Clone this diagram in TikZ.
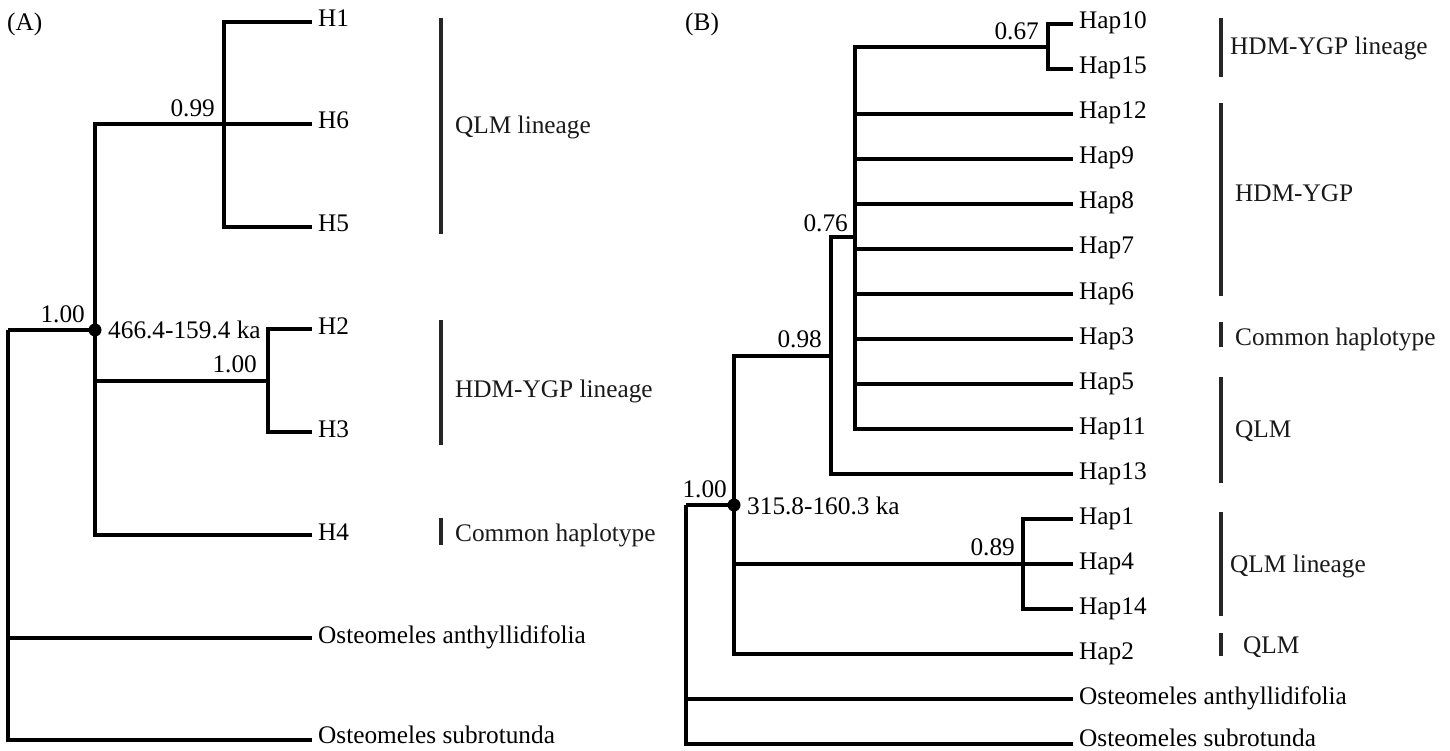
\documentclass[tikz,border=0pt]{standalone}
\usepackage{fontspec}
\setmainfont{Liberation Serif}
\newcommand{\figfont}{\fontsize{25.3}{30}\selectfont}
\begin{document}
\begin{tikzpicture}[x=1pt,y=-1pt,
  tree/.style={line width=3.3pt,line join=miter,black},
  bar/.style={line width=3.1pt,black!85},
  leaf/.style={anchor=base west,inner sep=0pt,xshift=6pt,yshift=-5pt,font=\figfont},
  supp/.style={anchor=base east,inner sep=0pt,font=\figfont},
  grp/.style={anchor=base west,inner sep=0pt,font=\figfont,black!90},
  dot/.style={circle,fill=black,inner sep=0pt,minimum size=13pt}]
\useasboundingbox (0,0) rectangle (1450,751);
% ---------------- Panel A ----------------
\node[anchor=base west,inner sep=0pt,font=\figfont] (lblA) at (7,31) {(A)};
\coordinate (rA) at (8,330);
\coordinate (nA) at (95,330);
\coordinate (nQ) at (224,124);
\coordinate (nH) at (268,381);
\coordinate (tH1) at (312,22);
\coordinate (tH6) at (312,124);
\coordinate (tH5) at (312,227);
\coordinate (tH2) at (312,329);
\coordinate (tH3) at (312,432);
\coordinate (tH4) at (312,535);
\coordinate (tOaA) at (312,638);
\coordinate (tOsA) at (312,740);
\draw[tree] (rA) -- (nA);
\draw[tree] (rA) |- (tOaA);
\draw[tree] (rA) |- (tOsA);
\draw[tree] (nA) |- (nQ);
\draw[tree] (nA) |- (nH);
\draw[tree] (nA) |- (tH4);
\draw[tree] (nQ) |- (tH1);
\draw[tree] (nQ) |- (tH5);
\draw[tree] (nQ) -- (tH6);
\draw[tree] (nH) |- (tH2);
\draw[tree] (nH) |- (tH3);
\node[dot] (dA) at (nA) {};
\node[leaf] (H1) at (tH1) {H1};
\node[leaf] (H6) at (tH6) {H6};
\node[leaf] (H5) at (tH5) {H5};
\node[leaf] (H2) at (tH2) {H2};
\node[leaf] (H3) at (tH3) {H3};
\node[leaf] (H4) at (tH4) {H4};
\node[leaf] (OaA) at (tOaA) {Osteomeles anthyllidifolia};
\node[leaf,yshift=2pt] (OsA) at (tOsA) {Osteomeles subrotunda};
\node[supp,xshift=-9pt,yshift=7pt] (s099) at (nQ) {0.99};
\node[supp,xshift=-10pt,yshift=8pt] (s100a) at (nA) {1.00};
\node[supp,xshift=-11pt,yshift=9pt] (s100b) at (nH) {1.00};
\node[anchor=base west,inner sep=0pt,font=\figfont,xshift=13pt,yshift=-8pt] (ageA) at (nA) {466.4-159.4 ka};
\draw[bar] (441,18) -- (441,234);
\draw[bar] (441,320) -- (441,445);
\draw[bar] (441,518) -- (441,545);
\node[grp] (gA1) at (455,134) {QLM lineage};
\node[grp] (gA2) at (455,397) {HDM-YGP lineage};
\node[grp] (gA3) at (455,541) {Common haplotype};
% ---------------- Panel B ----------------
\node[anchor=base west,inner sep=0pt,font=\figfont] (lblB) at (685,31) {(B)};
\coordinate (rB) at (686,505);
\coordinate (nB) at (734,505);
\coordinate (n98) at (831,356);
\coordinate (n76) at (855,237);
\coordinate (n67) at (1048,47);
\coordinate (n89) at (1023,564);
\foreach \nm/\yy in {10/24,15/69,12/114,9/159,8/204,7/249,6/294,3/339,5/384,11/429,13/474,1/519,4/564,14/609,2/654}{
  \coordinate (t\nm) at (1073,\yy);
}
\coordinate (tOaB) at (1073,699);
\coordinate (tOsB) at (1073,744);
\draw[tree] (rB) -- (nB);
\draw[tree] (rB) |- (tOaB);
\draw[tree] (rB) |- (tOsB);
\draw[tree] (nB) |- (n98);
\draw[tree] (nB) |- (n89);
\draw[tree] (nB) |- (t2);
\draw[tree] (n98) |- (n76);
\draw[tree] (n98) |- (t13);
\draw[tree] (n76) |- (n67);
\foreach \nm in {12,9,8,7,6,3,5,11}{ \draw[tree] (n76) |- (t\nm); }
\draw[tree] (n67) |- (t10);
\draw[tree] (n67) |- (t15);
\draw[tree] (n89) |- (t1);
\draw[tree] (n89) -- (t4);
\draw[tree] (n89) |- (t14);
\node[dot] (dB) at (nB) {};
\foreach \nm in {10,15,12,9,8,7,6,3,5,11,13,1,4,14,2}{
  \node[leaf] (Hap\nm) at (t\nm) {Hap\nm};
}
\node[leaf] (OaB) at (tOaB) {Osteomeles anthyllidifolia};
\node[leaf,yshift=3pt] (OsB) at (tOsB) {Osteomeles subrotunda};
\node[supp,xshift=-9pt,yshift=7pt] (s067) at (n67) {0.67};
\node[supp,xshift=-7pt,yshift=5pt] (s076) at (n76) {0.76};
\node[supp,xshift=-9pt,yshift=9pt] (s098) at (n98) {0.98};
\node[supp,xshift=-7pt,yshift=8pt] (s100c) at (nB) {1.00};
\node[supp,xshift=-8pt,yshift=9pt] (s089) at (n89) {0.89};
\node[anchor=base west,inner sep=0pt,font=\figfont,xshift=13pt,yshift=-9pt] (ageB) at (nB) {315.8-160.3 ka};
\draw[bar] (1221,18) -- (1221,77);
\draw[bar] (1221,103) -- (1221,296);
\draw[bar] (1221,322) -- (1221,347);
\draw[bar] (1221,377) -- (1221,483);
\draw[bar] (1221,512) -- (1221,616);
\draw[bar] (1221,633) -- (1221,656);
\node[grp] (gB1) at (1230,55) {HDM-YGP lineage};
\node[grp] (gB2) at (1235,202) {HDM-YGP};
\node[grp] (gB3) at (1235,345) {Common haplotype};
\node[grp] (gB4) at (1235,437) {QLM};
\node[grp] (gB5) at (1230,572) {QLM lineage};
\node[grp] (gB6) at (1243,653) {QLM};
\end{tikzpicture}
\end{document}
